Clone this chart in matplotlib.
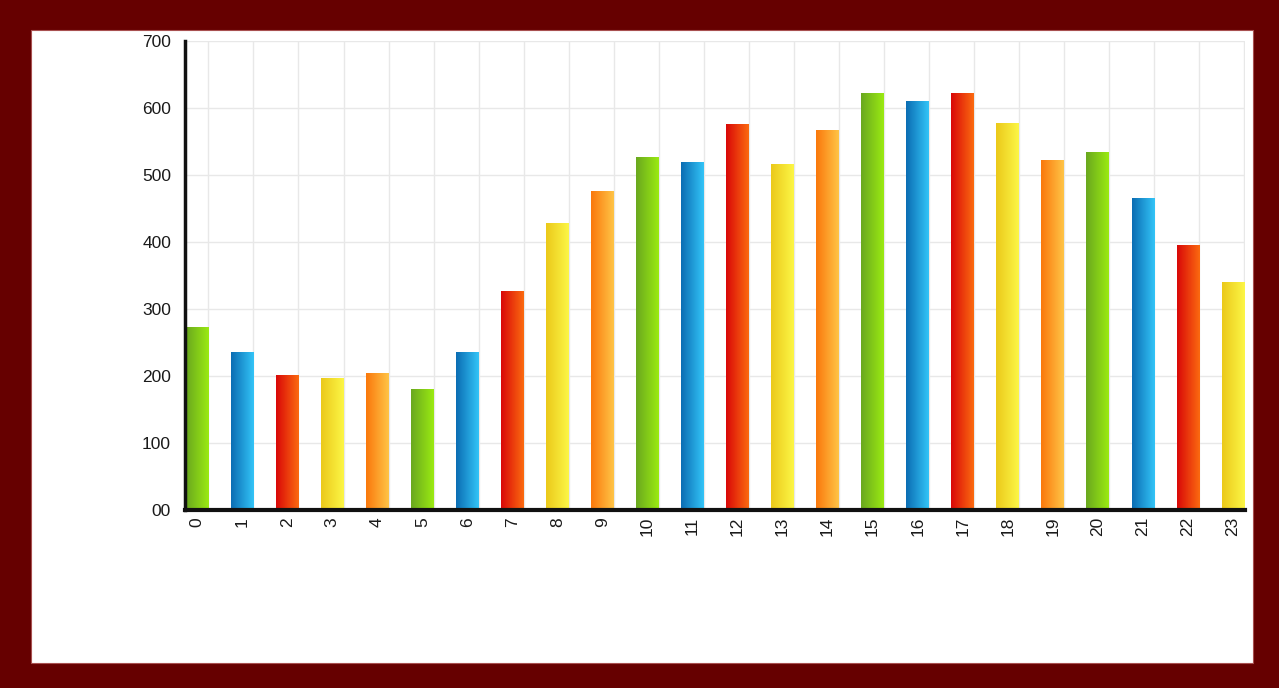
import matplotlib
matplotlib.use("Agg")
import matplotlib.pyplot as plt
import numpy as np
from matplotlib.patches import Rectangle
from matplotlib.colors import to_rgb

categories = [str(i) for i in range(24)]
values = [273, 235, 201, 196, 204, 180, 235, 326, 428, 475, 526, 518,
          575, 515, 566, 622, 609, 622, 577, 521, 534, 465, 395, 339]
y_ticks = [0, 100, 200, 300, 400, 500, 600, 700]
y_tick_labels = ["00", "100", "200", "300", "400", "500", "600", "700"]

# gradient palette (left colour, right colour), cycled: green, blue, red, yellow, orange
palette = [("#6aa81f", "#9aea12"),
           ("#0b6db3", "#33c4f7"),
           ("#d90808", "#fb6a10"),
           ("#ebc91a", "#fcf646"),
           ("#fa780c", "#ffc446")]

W, H = 1279, 688
fig = plt.figure(figsize=(W / 100, H / 100), dpi=100)
fig.patch.set_facecolor("#660000")

# white inner panel
fig.add_artist(Rectangle((31 / W, 1 - 663 / H), (1253 - 31) / W, (663 - 30) / H,
                         transform=fig.transFigure, facecolor="white",
                         edgecolor="#a85050", linewidth=0.8, zorder=0))

ax = fig.add_axes([185 / W, 1 - 510 / H, (1245 - 185) / W, (510 - 41) / H])
ax.set_facecolor("none")

x = np.arange(len(categories))
bars = ax.bar(x, values, width=0.5, color="none", edgecolor="none", zorder=2)

grad = np.linspace(0, 1, 64)
for i, b in enumerate(bars):
    c0 = np.array(to_rgb(palette[i % 5][0]))
    c1 = np.array(to_rgb(palette[i % 5][1]))
    img = (c0[None, :] * (1 - grad[:, None]) + c1[None, :] * grad[:, None])[None, :, :]
    bx, by = b.get_x(), b.get_y()
    ax.imshow(img, extent=[bx, bx + b.get_width(), by, by + b.get_height()],
              aspect="auto", interpolation="bilinear", zorder=2)

ax.set_xlim(-0.27, 23.27)
ax.set_ylim(0, 700)

# grid
for yv in y_ticks[1:]:
    ax.axhline(yv, color="#e8e8e8", linewidth=1.0, zorder=1)
for xv in x:
    ax.axvline(xv + 0.25, color="#e8e8e8", linewidth=1.0, zorder=1)

ax.set_yticks(y_ticks)
ax.set_yticklabels(y_tick_labels)
ax.set_xticks(x)
ax.set_xticklabels(categories, rotation=90)

for lab in ax.get_xticklabels() + ax.get_yticklabels():
    lab.set_fontfamily("Liberation Sans")
    lab.set_fontsize(12.5)
    lab.set_color("#1a1a1a")

ax.tick_params(axis="y", length=0, pad=10)
ax.tick_params(axis="x", length=0, pad=5)

for s in ["top", "right"]:
    ax.spines[s].set_visible(False)
ax.spines["left"].set_linewidth(2.5)
ax.spines["left"].set_color("#111111")
ax.spines["bottom"].set_linewidth(3)
ax.spines["bottom"].set_color("#111111")
ax.spines["left"].set_zorder(3)
ax.spines["bottom"].set_zorder(3)

fig.savefig("out.png", dpi=100, facecolor=fig.get_facecolor())
